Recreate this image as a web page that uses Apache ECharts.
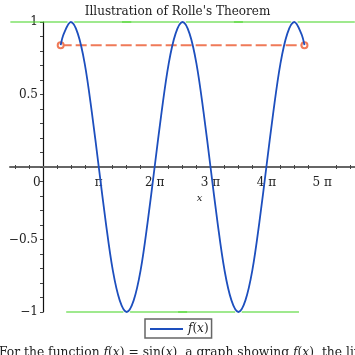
<!DOCTYPE html>
<html>
<head>
<meta charset="utf-8">
<script src="https://cdn.jsdelivr.net/npm/echarts@6/dist/echarts.min.js"></script>
<style>
  html, body { margin: 0; padding: 0; background: #fff; }
  #chart { width: 355px; height: 355px; }
</style>
</head>
<body>
<div id="chart"></div>
<script>
// f(x) = sin(x) sampled every pi/8 between x = 1 and x = 5pi - 1
const curveX = [1.0, 1.178, 1.571, 1.963, 2.356, 2.749, 3.142, 3.534, 3.927, 4.320, 4.712,
  5.105, 5.498, 5.890, 6.283, 6.676, 7.069, 7.461, 7.854, 8.247, 8.639, 9.032, 9.425,
  9.817, 10.21, 10.603, 10.996, 11.388, 11.781, 12.174, 12.566, 12.959, 13.352, 13.744,
  14.137, 14.530, 14.708]
const curveY = [0.84, 0.92, 1.0, 0.92, 0.71, 0.38, 0.0, -0.38, -0.71, -0.92, -1.0,
  -0.92, -0.71, -0.38, 0.0, 0.38, 0.71, 0.92, 1.0, 0.92, 0.71, 0.38, 0.0,
  -0.38, -0.71, -0.92, -1.0, -0.92, -0.71, -0.38, 0.0, 0.38, 0.71, 0.92,
  1.0, 0.92, 0.84]

// secant between the endpoints
const secantX = [1.0, 14.708]
const secantY = [0.84, 0.84]

// horizontal tangents at the extrema
const extremaX = [1.571, 4.712, 7.854, 10.996, 14.137]
const extremaY = [1, -1, 1, -1, 1]
const tangentFrom = [-1.83, 1.31, 4.45, 7.60, 10.74]
const tangentTo = [4.97, 8.11, 11.25, 14.40, 17.54]

const PI = Math.PI
const xTicks = [-2, -1, 1, 2, 3, 5, 6, 7, 9, 10, 11, 13, 14, 15, 17, 18, 19, 21, 22].map(k => k * PI / 4)
const xLabels = [0, 1, 2, 3, 4, 5].map(k => k * PI)
const yLabels = [-1, -0.5, 0.5, 1]

const serif = "DejaVu Serif"
const blue = "#1d4fbe"
const green = "rgba(80,215,50,0.55)"
const orange = "#ef7a58"

// axes cross at the origin: x = 0 is 33px right of the grid edge, y = 0 is 145px above the bottom
const yAxisShift = -33
const xAxisShift = -145

const chart = echarts.init(document.getElementById("chart"))

const tangentSeries = tangentFrom.map((x0, i) => ({
  type: "line",
  data: [[x0, extremaY[i]], [tangentTo[i], extremaY[i]]],
  symbol: "none",
  clip: false,
  silent: true,
  lineStyle: { color: green, width: 2 },
  z: 1,
}))

const option = {
  animation: false,
  title: {
    text: "Illustration of Rolle's Theorem",
    left: "center",
    top: 1,
    textStyle: { fontFamily: serif, fontSize: 12, fontWeight: "normal", color: "#222" },
  },
  grid: { left: 10, right: 0, top: 22, bottom: 43, outerBoundsMode: "none", containLabel: false },
  legend: {
    data: [{ name: "f(x)", icon: "rect" }],
    left: 145,
    top: 319,
    itemWidth: 33,
    itemHeight: 2,
    itemGap: 2,
    padding: [4, 3, 3, 5],
    borderColor: "#666",
    borderWidth: 1.5,
    borderRadius: 0,
    formatter: () => "{i|f}({i|x})",
    textStyle: {
      fontFamily: serif,
      fontSize: 12,
      color: "#222",
      rich: { i: { fontFamily: serif, fontStyle: "italic", fontSize: 12, color: "#222" } },
    },
  },
  xAxis: [
    {
      type: "value",
      min: -1.85,
      max: 17.55,
      position: "bottom",
      offset: xAxisShift,
      name: "x",
      nameLocation: "middle",
      nameGap: 20,
      nameTextStyle: { fontFamily: serif, fontStyle: "italic", fontSize: 10, color: "#222", padding: [0, 0, 0, 34] },
      axisLine: { onZero: false, lineStyle: { color: "#666", width: 2 } },
      axisTick: { show: true, customValues: xTicks, length: 2, lineStyle: { color: "#444" } },
      axisLabel: {
        customValues: xLabels,
        margin: 10,
        fontFamily: serif,
        fontSize: 12,
        color: "#222",
        formatter: v => {
          const k = Math.round(v / PI)
          if (k === 0) return "{z|0}"
          return k === 1 ? "π" : k + " π"
        },
        rich: { z: { fontFamily: serif, fontSize: 12, color: "#222", padding: [0, 12, 8, 0] } },
      },
      splitLine: { show: false },
    },
    {
      type: "value",
      min: -1.85,
      max: 17.55,
      position: "bottom",
      offset: xAxisShift,
      axisLine: { onZero: false, show: false },
      axisTick: { show: true, inside: true, customValues: xTicks, length: 2, lineStyle: { color: "#444" } },
      axisLabel: { show: false },
      splitLine: { show: false },
    },
  ],
  yAxis: {
    type: "value",
    min: -1,
    max: 1,
    interval: 0.1,
    position: "left",
    offset: yAxisShift,
    axisLine: { show: true, onZero: false, lineStyle: { color: "#111", width: 1.2 } },
    axisTick: { show: true, length: 3, lineStyle: { color: "#444" } },
    axisLabel: {
      customValues: yLabels,
      margin: 5,
      fontFamily: serif,
      fontSize: 12,
      color: "#222",
      formatter: v => (v < 0 ? "−" + Math.abs(v) : String(v)),
    },
    splitLine: { show: false },
  },
  series: [
    ...tangentSeries,
    {
      name: "extrema",
      type: "scatter",
      data: extremaX.map((x, i) => [x, extremaY[i]]),
      symbol: "emptyCircle",
      symbolSize: 5,
      clip: false,
      silent: true,
      itemStyle: { color: "#fff", borderColor: green, borderWidth: 1 },
      z: 2,
    },
    {
      name: "secant",
      type: "line",
      data: secantX.map((x, i) => [x, secantY[i]]),
      symbol: "emptyCircle",
      symbolSize: 6,
      showSymbol: true,
      lineStyle: { color: orange, width: 2, type: [11, 4] },
      itemStyle: { color: orange, borderWidth: 1.2 },
      z: 3,
    },
    {
      name: "f(x)",
      type: "line",
      data: curveX.map((x, i) => [x, curveY[i]]),
      smooth: 0.35,
      symbol: "none",
      clip: false,
      lineStyle: { color: blue, width: 1.8 },
      itemStyle: { color: blue },
      z: 4,
    },
  ],
  graphic: [
    {
      type: "text",
      left: -1,
      top: 347,
      style: {
        text: "For the function {i|f}({i|x}) = sin({i|x}), a graph showing {i|f}({i|x}), the line through the endpoints and the horizontal tangent lines",
        fontFamily: serif,
        fontSize: 12.3,
        fill: "#222",
        rich: { i: { fontFamily: serif, fontStyle: "italic", fontSize: 12.3, fill: "#222" } },
      },
    },
  ],
}

chart.setOption(option)
</script>
</body>
</html>
